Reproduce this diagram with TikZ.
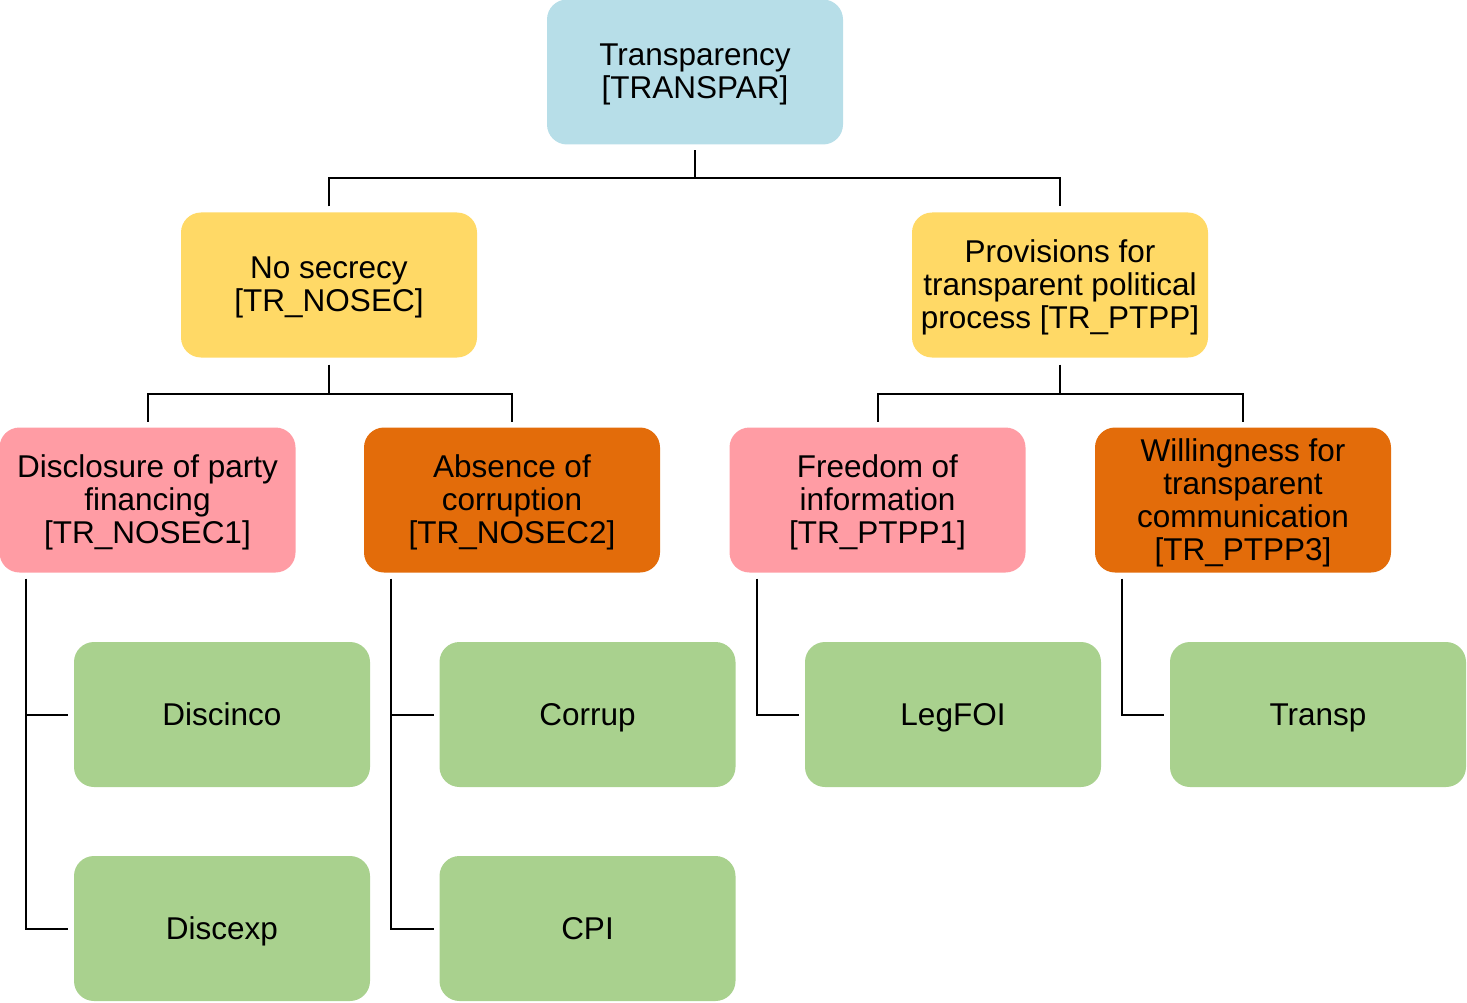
\documentclass[tikz,border=0pt]{standalone}
\usepackage{fontspec}
\setmainfont{Liberation Sans}
\usetikzlibrary{calc}
\definecolor{rootblue}{HTML}{B7DEE8}
\definecolor{dimyellow}{HTML}{FFD966}
\definecolor{subpink}{HTML}{FF9CA4}
\definecolor{suborange}{HTML}{E36C0A}
\definecolor{indgreen}{HTML}{A9D18E}
\tikzset{
  box/.style={rectangle, rounded corners=20pt, minimum width=296pt, minimum height=145pt,
    inner sep=0pt, outer sep=0pt, align=center, text=black,
    font=\fontsize{31.5}{33}\selectfont,
    % fixed first-line height and last-line depth keep every label centred alike
    execute at begin node={\rule{0pt}{30.6pt}},
    execute at end node={\rule[-8pt]{0pt}{8pt}}},
  % label of several lines, set a little below the box centre
  lbl/.style={inner sep=0pt, outer sep=0pt, align=center, text=black,
    font=\fontsize{31.5}{33}\selectfont},
  rootbox/.style={box, fill=rootblue},
  dimbox/.style={box, fill=dimyellow},
  pinkbox/.style={box, fill=subpink},
  orangebox/.style={box, fill=suborange},
  indbox/.style={box, fill=indgreen},
  link/.style={draw=black, line width=2pt}
}
\begin{document}
\begin{tikzpicture}[x=1pt, y=-1pt]
\useasboundingbox (0,0) rectangle (1467,1003);

% top level
\node[rootbox] (root) at (695,72) {};
\node[lbl] (root-t) at ($(root.center)+(0,2.5)$) {Transparency\\{[TRANSPAR]}};

% dimensions
\node[dimbox] (nosec) at (329,285) {};
\node[lbl] (nosec-t) at ($(nosec.center)+(0,2.5)$) {No secrecy\\{[TR\_NOSEC]}};
\node[dimbox] (prov) at (1060,285) {};
\node[lbl] (prov-t) at ($(prov.center)+(0,2.5)$) {Provisions for\\transparent political\\process [TR\_PTPP]};

% sub-dimensions
\node[pinkbox] (discl) at (147.5,500) {};
\node[lbl] (discl-t) at ($(discl.center)+(0,2.5)$) {Disclosure of party\\financing\\{[TR\_NOSEC1]}};
\node[orangebox] (absc) at (512,500) {};
\node[lbl] (absc-t) at ($(absc.center)+(0,2.5)$) {Absence of\\corruption\\{[TR\_NOSEC2]}};
\node[pinkbox] (foi) at (877.5,500) {};
\node[lbl] (foi-t) at ($(foi.center)+(0,2.5)$) {Freedom of\\information\\{[TR\_PTPP1]}};
\node[orangebox] (will) at (1243,500) {};
\node[lbl] (will-t) at ($(will.center)+(0,2.5)$) {Willingness for\\transparent\\communication\\{[TR\_PTPP3]}};

% indicators
\node[indbox] (discinco) at (222,714.5) {Discinco};
\node[indbox] (discexp) at (222,928.5) {Discexp};
\node[indbox] (corrup) at (587.5,714.5) {Corrup};
\node[indbox] (cpi) at (587.5,928.5) {CPI};
\node[indbox] (legfoi) at (953,714.5) {LegFOI};
\node[indbox] (transp) at (1318,714.5) {Transp};

% tree connectors
\draw[link] ($(root.south)+(0,6)$) -- ++(0,28) coordinate (j1);
\draw[link] ($(nosec.north)+(0,-6)$) |- (j1) -| ($(prov.north)+(0,-6)$);

\draw[link] ($(nosec.south)+(0,7)$) -- ++(0,29) coordinate (j2);
\draw[link] ($(discl.north)+(0,-6)$) |- (j2) -| ($(absc.north)+(0,-6)$);

\draw[link] ($(prov.south)+(0,7)$) -- ++(0,29) coordinate (j3);
\draw[link] ($(foi.north)+(0,-6)$) |- (j3) -| ($(will.north)+(0,-6)$);

% indicator connectors
\draw[link] ($(discl.south west)+(26,6)$) coordinate (d0) |- ($(discexp.west)+(-6,0)$);
\draw[link] (d0 |- discinco.west) -- ($(discinco.west)+(-6,0)$);

\draw[link] ($(absc.south west)+(27,6)$) coordinate (a0) |- ($(cpi.west)+(-6,0)$);
\draw[link] (a0 |- corrup.west) -- ($(corrup.west)+(-6,0)$);

\draw[link] ($(foi.south west)+(27,6)$) |- ($(legfoi.west)+(-6,0)$);
\draw[link] ($(will.south west)+(27,6)$) |- ($(transp.west)+(-6,0)$);
\end{tikzpicture}
\end{document}
